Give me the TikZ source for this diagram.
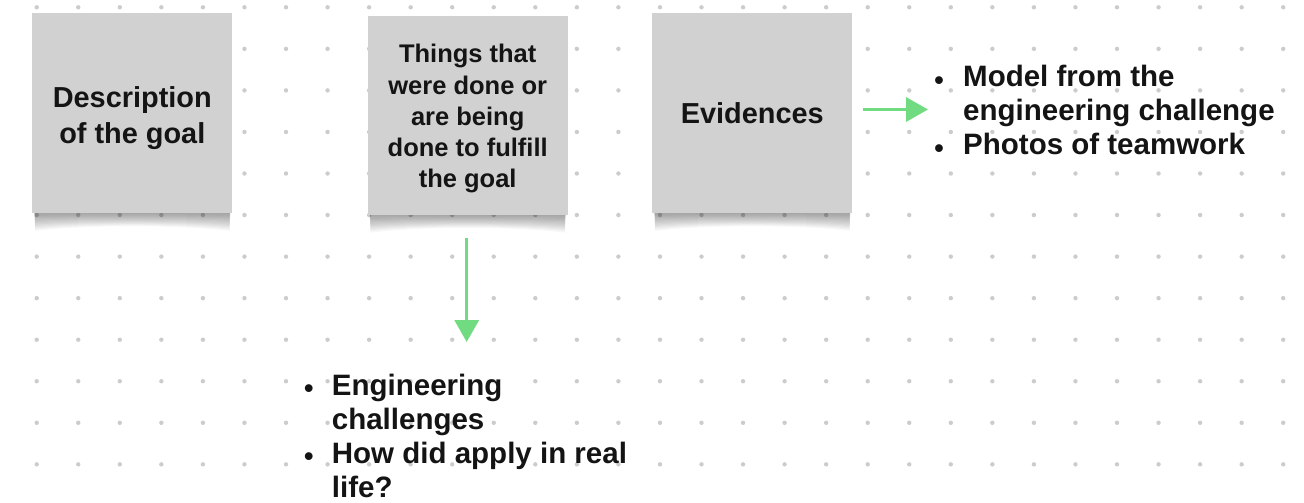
\documentclass[tikz,border=0pt]{standalone}
\usepackage{fontspec}
\setmainfont{Liberation Sans}
\usetikzlibrary{arrows.meta}
\pgfdeclarelayer{dots}
\pgfdeclarelayer{shadow}
\pgfsetlayers{dots,shadow,main}
\definecolor{boxgray}{RGB}{209,209,209}
\definecolor{dotgray}{RGB}{204,204,204}
\definecolor{arrowgreen}{RGB}{112,219,128}
\definecolor{inkblack}{RGB}{20,20,20}
\newcommand\bul{\makebox[10pt][c]{\raisebox{-2.6pt}{\fontsize{27}{27}\selectfont •}}}
\newcommand\boxshadow[1]{%
  \foreach \i in {1,...,14} {%
    \fill[black,opacity=0.028]
      ([shift={(2pt,6pt)}]#1.south west) -- ([shift={(-2pt,6pt)}]#1.south east)
      -- ([shift={(-3pt,{-\i*1.25pt})}]#1.south east)
      .. controls ([shift={(-50pt,{-\i*0.8pt})}]#1.south east) and ([shift={(50pt,{-\i*0.8pt})}]#1.south west)
      .. ([shift={(3pt,{-\i*1.25pt})}]#1.south west) -- cycle;
  }%
}
\tikzset{
  sticky/.style={fill=boxgray, minimum width=200pt, minimum height=200pt, inner sep=0pt,
    align=center, text=inkblack},
  bigfont/.style={font=\bfseries\fontsize{28.9}{36}\selectfont},
  midfont/.style={font=\bfseries\fontsize{25.5}{31.2}\selectfont},
  listtext/.style={inner sep=0pt, text=inkblack, font=\bfseries\fontsize{29.5}{34}\selectfont},
  arr/.style={draw=arrowgreen, line width=3.5pt, -{Triangle[length=22pt,width=24pt]}},
}
\begin{document}
\begin{tikzpicture}[x=1pt,y=-1pt]
\useasboundingbox (0,0) rectangle (1304,503);
\begin{pgfonlayer}{dots}
  \fill[white] (0,0) rectangle (1304,503);
  \foreach \i in {0,...,30}
    \foreach \j in {0,...,12}
      \fill[dotgray] ({36.7+\i*41.55},{7.3+\j*41.55}) circle (2.2pt);
\end{pgfonlayer}

\node[sticky, bigfont] (b1) at (132.3,113.3) {\rule{0pt}{31pt}Description\\of the goal};
\node[sticky, midfont, minimum height=199pt] (b2) at (467.7,115.5)
  {\rule{0pt}{25pt}Things that\\were done or\\are being\\done to fulfill\\the goal};
\node[sticky, bigfont] (b3) at (752.3,113.3) {Evidences};

\begin{pgfonlayer}{shadow}
  \boxshadow{b1}
  \boxshadow{b2}
  \boxshadow{b3}
\end{pgfonlayer}

\node[listtext, anchor=base west] (evlist) at (933.9,86.5)
  {\begin{tabular}[t]{@{}p{29.1pt}@{}l@{}}
    \bul & Model from the\\
         & engineering challenge\\
    \bul & Photos of teamwork
  \end{tabular}};
\node[listtext, anchor=base west] (donelist) at (303.7,395)
  {\begin{tabular}[t]{@{}p{28pt}@{}l@{}}
    \bul & Engineering\\
         & challenges\\
    \bul & How did apply in real\\
         & life?
  \end{tabular}};

\coordinate (evtip) at (928,109.5);
\coordinate (donetip) at (466.7,342);
\draw[arr] ([xshift=10.5pt,yshift=3.8pt]b3.east) -- (evtip);
\draw[arr] ([xshift=-1pt,yshift=-22.7pt]b2.south) -- (donetip);
\end{tikzpicture}
\end{document}
